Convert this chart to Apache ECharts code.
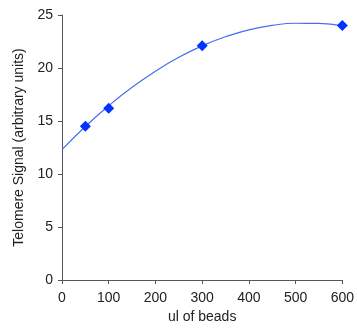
<!DOCTYPE html>
<html>
<head>
<meta charset="utf-8">
<script src="https://cdn.jsdelivr.net/npm/echarts@6/dist/echarts.min.js"></script>
<style>
  html, body { margin: 0; padding: 0; background: #fff; }
  #main { width: 357px; height: 329px; }
</style>
</head>
<body>
<div id="main"></div>
<script>
  // measured points
  var beads = [50, 100, 300, 600];
  var signal = [14.5, 16.2, 22.1, 24.0];

  // fitted curve
  var fitX = [0, 50, 100, 150, 200, 250, 300, 350, 400, 450, 500, 550, 600];
  var fitY = [12.30, 14.48, 16.44, 18.18, 19.70, 21.01, 22.09, 22.95, 23.60, 24.02, 24.22, 24.21, 23.98];

  var myChart = echarts.init(document.getElementById('main'));

  var axisColor = '#555';
  var textStyle = { color: '#222', fontSize: 14, fontFamily: 'Liberation Sans, Arial, sans-serif' };

  var option = {
    animation: false,
    grid: { left: 62, right: 12, top: 15, bottom: 47 },
    xAxis: {
      type: 'value',
      min: 0, max: 600, interval: 100,
      name: 'ul of beads',
      nameLocation: 'middle',
      nameGap: 30,
      nameTextStyle: textStyle,
      axisLine: { lineStyle: { color: axisColor, width: 1 } },
      axisTick: { length: 4, lineStyle: { color: axisColor } },
      axisLabel: Object.assign({ margin: 11 }, textStyle),
      splitLine: { show: false }
    },
    yAxis: {
      type: 'value',
      min: 0, max: 25, interval: 5,
      name: 'Telomere Signal (arbitrary units)',
      nameLocation: 'middle',
      nameGap: 34,
      nameTextStyle: textStyle,
      axisLine: { show: true, lineStyle: { color: axisColor, width: 1 } },
      axisTick: { show: true, length: 4, lineStyle: { color: axisColor } },
      axisLabel: Object.assign({ margin: 9 }, textStyle),
      splitLine: { show: false }
    },
    series: [
      {
        type: 'line',
        smooth: true,
        showSymbol: false,
        data: fitX.map(function (x, i) { return [x, fitY[i]]; }),
        lineStyle: { color: '#4a6cf0', width: 1.2 },
        z: 2
      },
      {
        type: 'scatter',
        symbol: 'diamond',
        symbolSize: 11,
        data: beads.map(function (x, i) { return [x, signal[i]]; }),
        itemStyle: { color: '#0033ff', opacity: 1 },
        z: 3
      }
    ]
  };

  myChart.setOption(option);
</script>
</body>
</html>
